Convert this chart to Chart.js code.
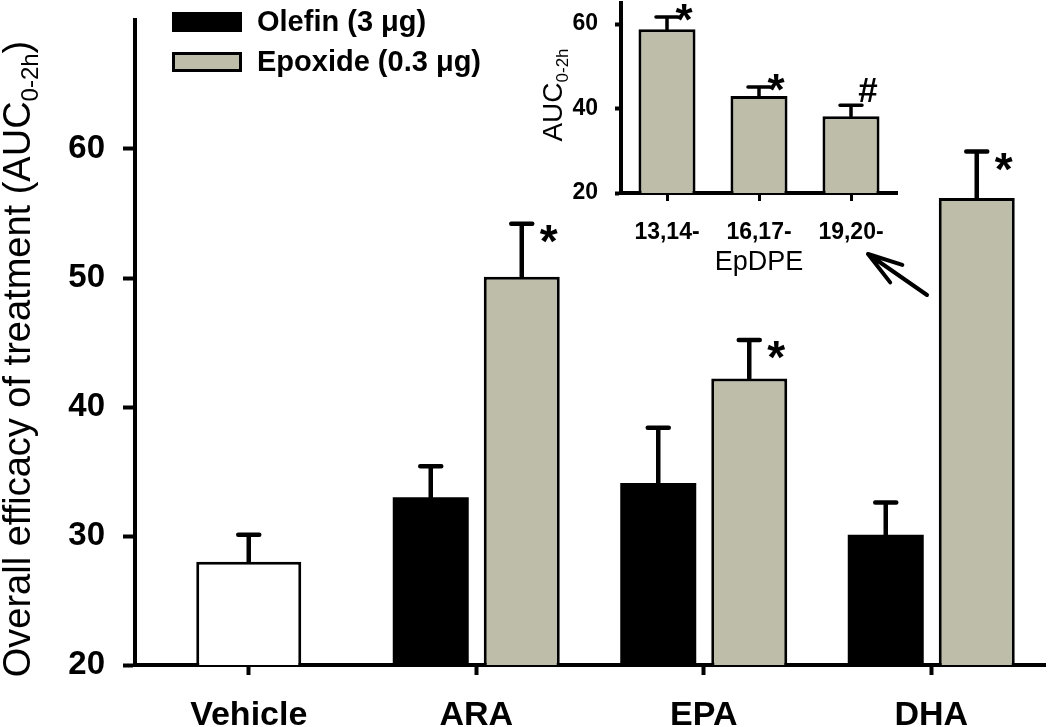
<!DOCTYPE html>
<html>
<head>
<meta charset="utf-8">
<script src="https://cdn.jsdelivr.net/npm/chart.js@4.4.1/dist/chart.umd.min.js"></script>
<style>
  body { margin: 0; background: #fff; }
  #wrap { position: relative; width: 1050px; height: 727px; }
  #mainChart { position: absolute; left: 0; top: 0; }
  #insetChart { position: absolute; left: 530px; top: 0; }
</style>
</head>
<body>
<div id="wrap">
  <canvas id="mainChart" width="1050" height="727"></canvas>
  <canvas id="insetChart" width="400" height="300"></canvas>
</div>
<script>
  // Main chart data (AUC 0-2h, mean and SEM)
  const groups = ["Vehicle", "ARA", "EPA", "DHA"];
  const vehicleMean = [28.0, null, null, null];
  const vehicleErr = [2.1, null, null, null];
  const olefinMean = [null, 33.0, 34.1, 30.1];
  const olefinErr = [null, 2.4, 4.3, 2.5];
  const epoxideMean = [null, 50.1, 42.2, 56.2];
  const epoxideErr = [null, 4.1, 3.0, 3.6];
  const epoxideMarks = ["", "*", "*", "*"];
  const mainTicks = [20, 30, 40, 50, 60];

  // Inset data (EpDPE regioisomers)
  const insetGroups = ["13,14-", "16,17-", "19,20-"];
  const insetMean = [58.8, 43.0, 38.2];
  const insetErr = [2.9, 2.1, 2.6];
  const insetMarks = ["*", "*", "#"];
  const insetTicks = [20, 40, 60];

  const FONT = "'Liberation Sans', Arial, Helvetica, sans-serif";
  const EPOX_FILL = "rgb(189,189,170)";

  // Error bars (upper only) plus significance marks
  const errorBars = {
    id: "errorBars",
    afterDatasetsDraw(chart, args, opts) {
      const ctx = chart.ctx;
      const yScale = chart.scales.y;
      ctx.save();
      ctx.strokeStyle = "#000";
      ctx.fillStyle = "#000";
      ctx.lineWidth = opts.lineWidth;
      ctx.lineCap = "round";
      chart.data.datasets.forEach((ds, di) => {
        if (!ds.errors) return;
        const meta = chart.getDatasetMeta(di);
        ds.data.forEach((v, i) => {
          if (v == null) return;
          const bar = meta.data[i];
          const top = yScale.getPixelForValue(v + ds.errors[i]);
          ctx.beginPath();
          ctx.moveTo(bar.x, bar.y);
          ctx.lineTo(bar.x, top);
          ctx.moveTo(bar.x - opts.cap / 2, top);
          ctx.lineTo(bar.x + opts.cap / 2, top);
          ctx.stroke();
          const mark = ds.marks ? ds.marks[i] : "";
          if (mark) {
            const m = opts.marks[mark];
            ctx.font = m.font;
            ctx.textAlign = "center";
            ctx.textBaseline = "alphabetic";
            ctx.fillText(mark, bar.x + m.dx, top + m.dy);
          }
        });
      });
      ctx.restore();
    }
  };

  // rotated axis title with a subscript part
  function drawSubTitle(ctx, baseX, cy, parts, size) {
    const big = `${size}px ${FONT}`;
    const small = `${Math.round(size * 0.62)}px ${FONT}`;
    ctx.save();
    ctx.translate(baseX, cy);
    ctx.rotate(-Math.PI / 2);
    ctx.font = big;
    const w1 = ctx.measureText(parts[0]).width;
    const w3 = ctx.measureText(parts[2]).width;
    ctx.font = small;
    const w2 = ctx.measureText(parts[1]).width;
    let x = -(w1 + w2 + w3) / 2;
    ctx.fillStyle = "#000";
    ctx.textAlign = "left";
    ctx.textBaseline = "alphabetic";
    ctx.font = big;
    ctx.fillText(parts[0], x, 0);
    x += w1;
    ctx.font = small;
    ctx.fillText(parts[1], x, size * 0.2);
    x += w2;
    ctx.font = big;
    ctx.fillText(parts[2], x, 0);
    ctx.restore();
  }

  // legend, y title and the arrow pointing at the inset
  const mainDecor = {
    id: "mainDecor",
    afterDraw(chart) {
      const ctx = chart.ctx;
      ctx.save();
      // legend
      ctx.fillStyle = "#000";
      ctx.fillRect(172, 12, 70, 20);
      ctx.fillStyle = EPOX_FILL;
      ctx.fillRect(173.5, 53.5, 67, 17);
      ctx.strokeStyle = "#000";
      ctx.lineWidth = 3;
      ctx.strokeRect(173.5, 53.5, 67, 17);
      ctx.fillStyle = "#000";
      ctx.font = `bold 29px ${FONT}`;
      ctx.textAlign = "left";
      ctx.textBaseline = "middle";
      ctx.fillText(chart.data.datasets[1].label, 257, 23);
      ctx.fillText(chart.data.datasets[2].label, 257, 63);

      // arrow
      const tip = { x: 868, y: 254 }, tail = { x: 927, y: 295 };
      const ang = Math.atan2(tail.y - tip.y, tail.x - tip.x);
      ctx.lineWidth = 4;
      ctx.lineCap = "round";
      ctx.beginPath();
      ctx.moveTo(tail.x, tail.y);
      ctx.lineTo(tip.x, tip.y);
      [-0.3, 0.3].forEach(d => {
        ctx.moveTo(tip.x, tip.y);
        ctx.lineTo(tip.x + 36 * Math.cos(ang + d), tip.y + 36 * Math.sin(ang + d));
      });
      ctx.stroke();
      ctx.restore();

      drawSubTitle(ctx, 30, 359, ["Overall efficacy of treatment (AUC", "0-2h", ")"], 38);
    }
  };

  const insetDecor = {
    id: "insetDecor",
    afterDraw(chart) {
      const ctx = chart.ctx;
      const xs = chart.scales.x;
      ctx.save();
      ctx.fillStyle = "#000";
      ctx.font = `27px ${FONT}`;
      ctx.textAlign = "center";
      ctx.textBaseline = "middle";
      ctx.fillText("EpDPE", (xs.left + xs.right) / 2, 263);
      ctx.restore();
      drawSubTitle(ctx, 32, 95, ["AUC", "0-2h", ""], 28);
    }
  };

  // keep the tick labels from pushing the plot area around
  function fixY(width) {
    return scale => {
      scale.width = width;
      scale.paddingTop = 0;
      scale.paddingBottom = 0;
    };
  }
  function fixX(height) {
    return scale => {
      scale.height = height;
      scale.paddingLeft = 0;
      scale.paddingRight = 0;
    };
  }

  new Chart(document.getElementById("mainChart"), {
    type: "bar",
    data: {
      labels: groups,
      datasets: [
        {
          label: "Vehicle",
          data: vehicleMean,
          errors: vehicleErr,
          backgroundColor: "#fff",
          borderColor: "#000",
          borderWidth: 3,
          barPercentage: 0.577,
          skipNull: true,
        },
        {
          label: "Olefin (3 \u03bcg)",
          data: olefinMean,
          errors: olefinErr,
          backgroundColor: "#000",
          borderColor: "#000",
          borderWidth: 0,
          barPercentage: 0.835,
          skipNull: true,
        },
        {
          label: "Epoxide (0.3 \u03bcg)",
          data: epoxideMean,
          errors: epoxideErr,
          marks: epoxideMarks,
          backgroundColor: EPOX_FILL,
          borderColor: "#000",
          borderWidth: 3,
          barPercentage: 0.835,
          skipNull: true,
        },
      ],
    },
    options: {
      responsive: false,
      animation: false,
      devicePixelRatio: 1,
      categoryPercentage: 0.8,
      layout: { padding: { top: 20, right: 5 } },
      plugins: {
        legend: { display: false },
        tooltip: { enabled: false },
        errorBars: {
          lineWidth: 4.5,
          cap: 21,
          marks: { "*": { font: `bold 46px ${FONT}`, dx: 27, dy: 33 } },
        },
      },
      scales: {
        x: {
          grid: { offset: false, drawOnChartArea: false, tickLength: 10, tickWidth: 4, tickColor: "#000" },
          border: { display: true, width: 4, color: "#000" },
          ticks: { color: "#000", font: { family: FONT, size: 34, weight: "bold" }, padding: 20 },
          afterFit: fixX(62),
        },
        y: {
          min: 20,
          max: 70,
          grid: { drawOnChartArea: false, tickLength: 12, tickWidth: 4, tickColor: "#000" },
          border: { display: true, width: 4, color: "#000" },
          ticks: { color: "#000", font: { family: FONT, size: 33, weight: "bold" }, padding: 18 },
          afterBuildTicks(scale) { scale.ticks = mainTicks.map(v => ({ value: v })); },
          afterFit: fixY(135),
        },
      },
    },
    plugins: [errorBars, mainDecor],
  });

  new Chart(document.getElementById("insetChart"), {
    type: "bar",
    data: {
      labels: insetGroups,
      datasets: [
        {
          label: "EpDPE",
          data: insetMean,
          errors: insetErr,
          marks: insetMarks,
          backgroundColor: EPOX_FILL,
          borderColor: "#000",
          borderWidth: 3,
          barPercentage: 0.775,
          categoryPercentage: 0.8,
        },
      ],
    },
    options: {
      responsive: false,
      animation: false,
      devicePixelRatio: 1,
      layout: { padding: { top: 3, right: 33 } },
      plugins: {
        legend: { display: false },
        tooltip: { enabled: false },
        errorBars: {
          lineWidth: 3.5,
          cap: 22,
          marks: {
            "*": { font: `bold 44px ${FONT}`, dx: 17, dy: 18 },
            "#": { font: `bold 35px ${FONT}`, dx: 17, dy: -3 },
          },
        },
      },
      scales: {
        x: {
          grid: { offset: false, drawOnChartArea: false, tickLength: 8, tickWidth: 3, tickColor: "#000" },
          border: { display: true, width: 4, color: "#000" },
          ticks: { color: "#000", font: { family: FONT, size: 23, weight: "bold" }, padding: 18 },
          afterFit: fixX(107),
        },
        y: {
          min: 20,
          max: 65,
          grid: { drawOnChartArea: false, tickLength: 6, tickWidth: 4, tickColor: "#000" },
          border: { display: true, width: 4, color: "#000" },
          ticks: { color: "#000", font: { family: FONT, size: 23, weight: "bold" }, padding: 17 },
          afterBuildTicks(scale) { scale.ticks = insetTicks.map(v => ({ value: v })); },
          afterFit: fixY(91),
        },
      },
    },
    plugins: [errorBars, insetDecor],
  });
</script>
</body>
</html>
